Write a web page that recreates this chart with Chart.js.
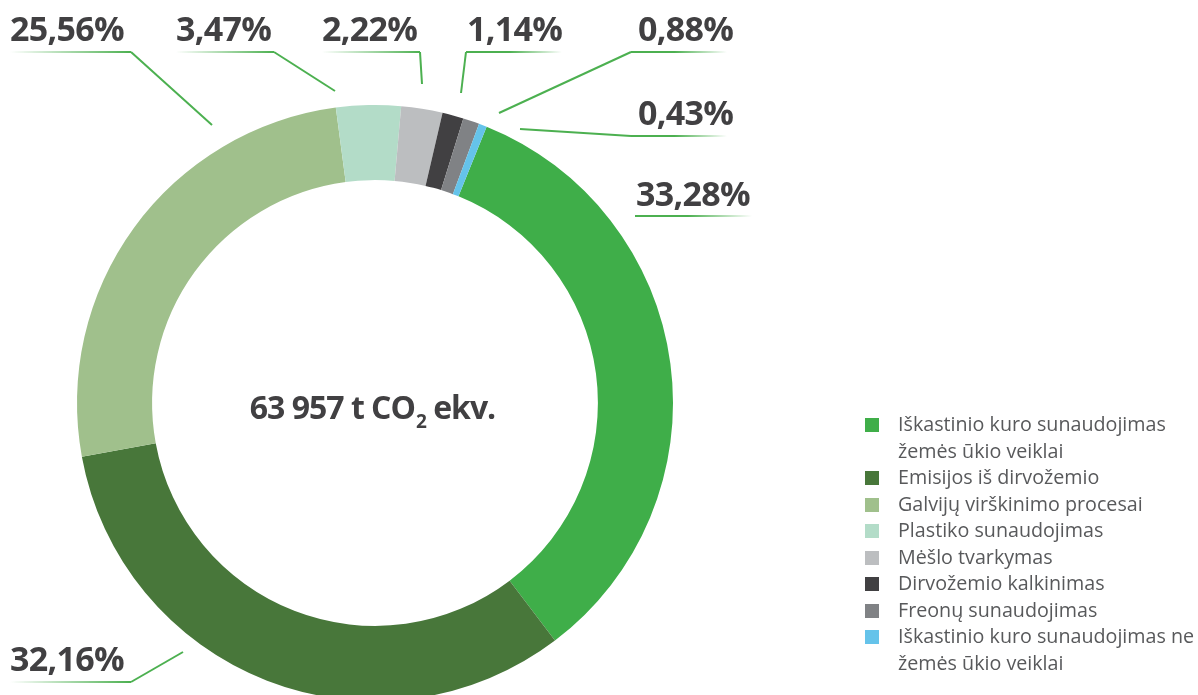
<!DOCTYPE html>
<html>
<head>
<meta charset="utf-8">
<script src="https://cdn.jsdelivr.net/npm/chart.js@4.4.1/dist/chart.umd.min.js"></script>
<style>
  html, body { margin: 0; padding: 0; background: #fff; overflow: hidden; width: 1198px; height: 695px; }
  #wrap { position: relative; width: 1198px; height: 695px; }
  #chart { position: absolute; left: 0; top: 0; }
  #legend { position: absolute; left: 865px; top: 411px; font-family: 'Open Sans', sans-serif; font-size: 19.7px; line-height: 26.5px; color: #58595b; }
  .item { display: flex; align-items: flex-start; }
  .box { width: 14px; height: 14px; margin-top: 7px; margin-right: 19px; flex: none; }
</style>
</head>
<body>
<div id="wrap">
  <canvas id="chart" width="1198" height="720"></canvas>
  <div id="legend"></div>
</div>
<script>
const labels = [
  ['Iškastinio kuro sunaudojimas', 'žemės ūkio veiklai'],
  'Emisijos iš dirvožemio',
  'Galvijų virškinimo procesai',
  'Plastiko sunaudojimas',
  'Mėšlo tvarkymas',
  'Dirvožemio kalkinimas',
  'Freonų sunaudojimas',
  ['Iškastinio kuro sunaudojimas ne', 'žemės ūkio veiklai']
];
const values = [33.28, 32.16, 25.56, 3.47, 2.22, 1.14, 0.88, 0.43];
const colors = ['#3fae49', '#48773a', '#a0c08c', '#b3dcc8', '#bcbec0', '#414042', '#808285', '#65c3ea'];
const centerParts = ['63 957 t CO', '2', ' ekv.'];

// where each percentage label sits and how its leader line runs
const callouts = [
  { tx: 636, ty: 206, under: [635, 752, 216], fade: 'right', lead: null },
  { tx: 10, ty: 671, under: [10, 131, 682], fade: 'left', lead: [131, 682, 183, 652] },
  { tx: 10, ty: 41, under: [10, 131, 52], fade: 'left', lead: [131, 52, 212, 125] },
  { tx: 176, ty: 41, under: [176, 274, 52], fade: 'left', lead: [274, 52, 335, 91] },
  { tx: 322, ty: 41, under: [322, 420, 52], fade: 'left', lead: [420, 52, 422, 84] },
  { tx: 467, ty: 41, under: [466, 562, 52], fade: 'right', lead: [466, 52, 461, 93] },
  { tx: 638, ty: 41, under: [631, 727, 52], fade: 'right', lead: [631, 52, 499, 113] },
  { tx: 638, ty: 125, under: [631, 727, 136], fade: 'right', lead: [631, 136, 520, 129] }
];

const lineGreen = '#4cb050';
const textDark = '#414042';

const calloutPlugin = {
  id: 'callouts',
  afterDraw(chart) {
    const ctx = chart.ctx;
    ctx.save();
    ctx.lineWidth = 2;
    ctx.lineCap = 'butt';
    callouts.forEach((c, i) => {
      const [x1, x2, y] = c.under;
      const g = ctx.createLinearGradient(x1, 0, x2, 0);
      if (c.fade === 'left') {
        g.addColorStop(0, 'rgba(76,176,80,0)');
        g.addColorStop(1, lineGreen);
      } else {
        g.addColorStop(0, lineGreen);
        g.addColorStop(0.45, lineGreen);
        g.addColorStop(1, 'rgba(76,176,80,0)');
      }
      ctx.strokeStyle = g;
      ctx.beginPath();
      ctx.moveTo(x1, y);
      ctx.lineTo(x2, y);
      ctx.stroke();

      if (c.lead) {
        ctx.strokeStyle = lineGreen;
        ctx.beginPath();
        ctx.moveTo(c.lead[0], c.lead[1]);
        ctx.lineTo(c.lead[2], c.lead[3]);
        ctx.stroke();
      }

      ctx.fillStyle = textDark;
      ctx.font = 'bold 34px "Open Sans"';
      ctx.letterSpacing = '-0.7px';
      ctx.textBaseline = 'alphabetic';
      ctx.textAlign = 'left';
      ctx.fillText(values[i].toFixed(2).replace('.', ',') + '%', c.tx, c.ty);
    });

    // centre text with subscript 2
    const big = 'bold 32px "Open Sans"';
    const small = 'bold 19px "Open Sans"';
    ctx.letterSpacing = '-1px';
    ctx.font = big;
    const w1 = ctx.measureText(centerParts[0]).width;
    const w3 = ctx.measureText(centerParts[2]).width;
    ctx.font = small;
    const w2 = ctx.measureText(centerParts[1]).width;
    let x = 372 - (w1 + w2 + w3) / 2;
    const base = 419;
    ctx.fillStyle = textDark;
    ctx.font = big;
    ctx.fillText(centerParts[0], x, base);
    x += w1;
    ctx.font = small;
    ctx.fillText(centerParts[1], x + 1, base + 9);
    x += w2 + 1;
    ctx.font = big;
    ctx.fillText(centerParts[2], x, base);
    ctx.restore();
  }
};

const canvas = document.getElementById('chart');

new Chart(canvas, {
  type: 'doughnut',
  data: {
    labels: labels,
    datasets: [{
      data: values,
      backgroundColor: colors,
      borderWidth: 0
    }]
  },
  options: {
    responsive: false,
    animation: false,
    rotation: 22,
    cutout: '74.8%',
    layout: { padding: { left: 77, top: 105, right: 525, bottom: 19 } },
    plugins: {
      legend: { display: false },
      tooltip: { enabled: false }
    }
  },
  plugins: [calloutPlugin]
});

// legend on the right
const legendBox = document.getElementById('legend');
labels.forEach((lab, i) => {
  const row = document.createElement('div');
  row.className = 'item';
  const box = document.createElement('span');
  box.className = 'box';
  box.style.background = colors[i];
  const txt = document.createElement('span');
  txt.innerHTML = Array.isArray(lab) ? lab.join('<br>') : lab;
  row.appendChild(box);
  row.appendChild(txt);
  legendBox.appendChild(row);
});
</script>
</body>
</html>
